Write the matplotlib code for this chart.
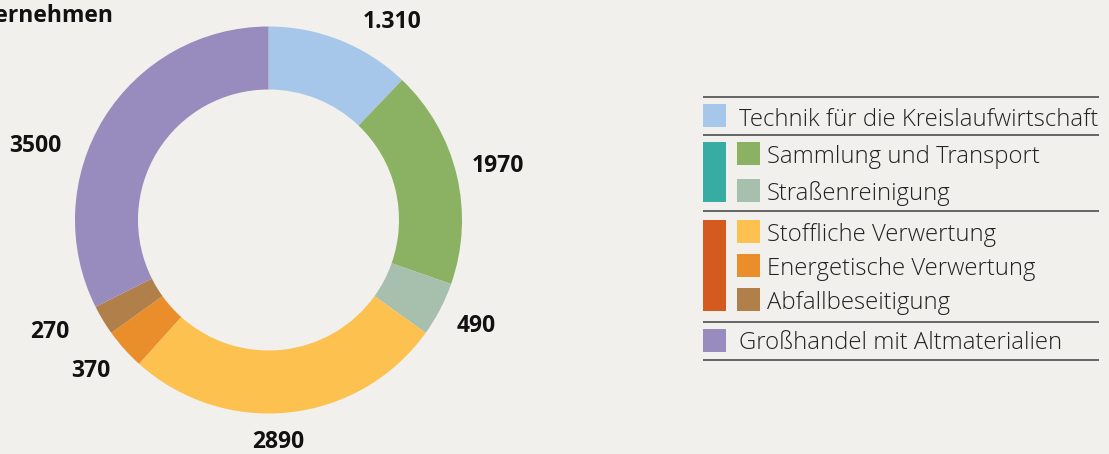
import matplotlib.pyplot as plt
from matplotlib.patches import Rectangle

# data
categories = ["Technik für die Kreislaufwirtschaft", "Sammlung und Transport",
              "Straßenreinigung", "Stoffliche Verwertung", "Energetische Verwertung",
              "Abfallbeseitigung", "Großhandel mit Altmaterialien"]
values = [1310, 1970, 490, 2890, 370, 270, 3500]
value_labels = ["1.310", "1970", "490", "2890", "370", "270", "3500"]
title = "Unternehmen"

colors = ["#a7c7ea", "#8bb262", "#a7bfad", "#fdc150", "#e98e2a", "#b07f4a", "#988bbd"]
group_colors = {"teal": "#37aca3", "rust": "#d45a20"}
bg = "#f1f0ec"

W, H = 1109, 454
fig = plt.figure(figsize=(W / 100, H / 100), dpi=100, facecolor=bg)
plt.rcParams['font.family'] = ['Open Sans', 'DejaVu Sans']

# donut, axes in pixel units
cx, cy, R, r_in = 268.5, 220, 193.5, 130.5
half = 205
ax = fig.add_axes([(cx - half) / W, (H - cy - half) / H, 2 * half / W, 2 * half / H])
ax.set_facecolor("none")
ax.pie(values, colors=colors, startangle=90, counterclock=False, radius=R,
       wedgeprops=dict(width=R - r_in, edgecolor="none", linewidth=0))
ax.set_xlim(-half, half)
ax.set_ylim(-half, half)
ax.set_aspect("equal")
ax.axis("off")

# overlay in pixel coords for labels and legend
ov = fig.add_axes([0, 0, 1, 1])
ov.set_xlim(0, W)
ov.set_ylim(H, 0)
ov.axis("off")
ov.set_facecolor("none")

# value label positions (x center, baseline)
label_pos = [(392, 28), (498, 172), (476, 332.5), (278, 448.5), (91, 377), (50, 337.5), (35, 152.5)]
for txt, (x, y) in zip(value_labels, label_pos):
    ov.text(x, y, txt, ha="center", va="baseline", fontsize=16.5, fontweight="bold", color="#111111")

ov.text(113, 22, title, ha="right", va="baseline", fontsize=16.5, fontweight="bold", color="#111111")

# legend
line_x0, line_x1 = 703, 1099
for y in [97.3, 134.7, 210.5, 322.3, 360]:
    ov.plot([line_x0, line_x1], [y, y], color="#5a5a5a", lw=1.3, solid_capstyle="butt")

sw = 23
# rows: (category index, swatch x, swatch top, text x, baseline)
rows = [(0, 703, 104, 739, 125.7),
        (1, 737, 142, 767, 163.3),
        (2, 737, 179, 767, 200),
        (3, 737, 220, 767, 240.7),
        (4, 737, 254, 767, 275),
        (5, 737, 288, 767, 309),
        (6, 703, 329, 739, 349.3)]
for i, sx, sy, tx, ty in rows:
    ov.add_patch(Rectangle((sx, sy), sw, sw, facecolor=colors[i], edgecolor="none"))
    ov.text(tx, ty, categories[i], ha="left", va="baseline", fontsize=17.2,
            fontweight="light", color="#222222")

ov.add_patch(Rectangle((703, 142), sw, 59.7, facecolor=group_colors["teal"], edgecolor="none"))
ov.add_patch(Rectangle((703, 220), sw, 90.7, facecolor=group_colors["rust"], edgecolor="none"))

fig.savefig("out.png", dpi=100, facecolor=bg)
